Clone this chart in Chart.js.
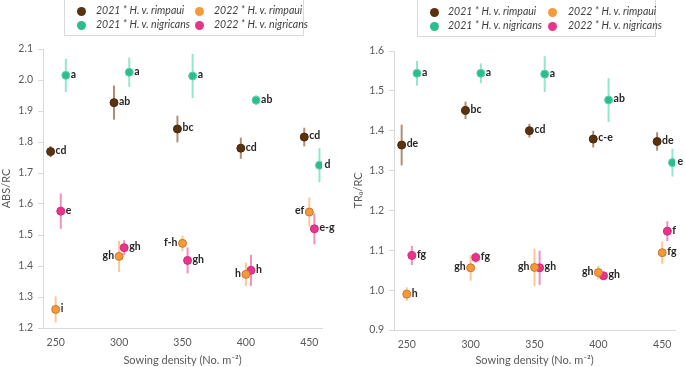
<!DOCTYPE html>
<html><head><meta charset="utf-8">
<script src="https://cdn.jsdelivr.net/npm/chart.js@4/dist/chart.umd.min.js"></script>
<style>
html,body{margin:0;padding:0;background:#fff;width:685px;height:367px;overflow:hidden;}
.wrap{position:absolute;top:0;height:367px;}
.legend{position:absolute;border:1px solid #d9d9d9;border-top:none;font-family:Lato,"Open Sans",sans-serif;font-style:italic;font-size:10.5px;color:#404040;}
.item{position:absolute;white-space:nowrap;line-height:12px;}
.dot{position:absolute;width:9px;height:9px;border-radius:50%;}
</style></head>
<body>
<div class="wrap" style="left:0;width:340px;"><canvas id="c1" width="340" height="367"></canvas></div>
<div class="wrap" style="left:340px;width:345px;"><canvas id="c2" width="345" height="367"></canvas></div>
<div class="legend" style="left:64px;top:0;width:238px;height:35px;" id="lg1"></div>
<div class="legend" style="left:417px;top:0;width:237px;height:36px;" id="lg2"></div>
<script>
// ---------- data ----------
const densities = [250, 300, 350, 400, 450];
const seriesNames = ['2021 * H. v. rimpaui', '2021 * H. v. nigricans', '2022 * H. v. rimpaui', '2022 * H. v. nigricans'];

// ABS/RC
const absRimp21 = [1.769, 1.927, 1.842, 1.780, 1.816];
const absRimp21Err = [0.018, 0.055, 0.043, 0.034, 0.030];
const absNig21 = [2.015, 2.025, 2.013, 1.935, 1.725];
const absNig21Err = [0.054, 0.047, 0.071, 0.016, 0.055];
const absRimp22 = [1.260, 1.431, 1.473, 1.373, 1.574];
const absRimp22Err = [0.042, 0.050, 0.025, 0.038, 0.047];
const absNig22 = [1.577, 1.459, 1.418, 1.386, 1.520];
const absNig22Err = [0.057, 0.024, 0.042, 0.050, 0.050];
const absRimp21Lbl = ['cd', 'ab', 'bc', 'cd', 'cd'];
const absNig21Lbl = ['a', 'a', 'a', 'ab', 'd'];
const absRimp22Lbl = ['i', 'gh', 'f-h', 'h', 'ef'];
const absNig22Lbl = ['e', 'gh', 'gh', 'h', 'e-g'];
const absRimp22Side = ['r', 'l', 'l', 'l', 'l'];
const absTicks = [1.2, 1.3, 1.4, 1.5, 1.6, 1.7, 1.8, 1.9, 2.0, 2.1];

// TRo/RC
const trRimp21 = [1.364, 1.451, 1.400, 1.379, 1.373];
const trRimp21Err = [0.051, 0.022, 0.017, 0.021, 0.023];
const trNig21 = [1.544, 1.544, 1.542, 1.477, 1.320];
const trNig21Err = [0.031, 0.025, 0.045, 0.055, 0.035];
const trRimp22 = [0.990, 1.056, 1.057, 1.044, 1.094];
const trRimp22Err = [0.017, 0.032, 0.047, 0.017, 0.028];
const trNig22 = [1.087, 1.082, 1.056, 1.036, 1.148];
const trNig22Err = [0.024, 0.013, 0.043, 0.010, 0.025];
const trRimp21Lbl = ['de', 'bc', 'cd', 'c-e', 'de'];
const trNig21Lbl = ['a', 'a', 'a', 'ab', 'e'];
const trRimp22Lbl = ['h', 'gh', 'gh', 'gh', 'fg'];
const trNig22Lbl = ['fg', 'fg', 'gh', 'gh', 'f'];
const trRimp22Side = ['r', 'l', 'l', 'l', 'r'];
const trTicks = [0.9, 1.0, 1.1, 1.2, 1.3, 1.4, 1.5, 1.6];

// ---------- styles ----------
const offsets = [-4, 8, 0, 4];
const fills = ['#5b3210', '#2dbd8d', '#f59a3b', '#e8348b'];
const borders = ['#4a280c', '#5fd3aa', '#c9772a', '#d42a7c'];
const barCols = ['rgba(140,95,60,0.7)', 'rgba(80,215,165,0.6)', 'rgba(245,165,80,0.6)', 'rgba(235,70,150,0.6)'];
const FONT = 'Lato, "Open Sans", sans-serif';

function makeDatasets(vals, errs, lbls, sides) {
  return vals.map((v, i) => ({
    label: seriesNames[i],
    data: densities.map((d, k) => ({ x: d + offsets[i], y: v[k] })),
    errs: errs[i], lbls: lbls[i], sides: sides[i],
    backgroundColor: fills[i], borderColor: borders[i], borderWidth: 1,
    pointRadius: 4, pointHoverRadius: 4, barColor: barCols[i]
  }));
}

const errPlugin = {
  id: 'errs',
  beforeDatasetsDraw(chart) {
    const ctx = chart.ctx, ys = chart.scales.y, xs = chart.scales.x;
    ctx.save();
    chart.data.datasets.forEach(ds => {
      ctx.strokeStyle = ds.barColor; ctx.lineWidth = 2;
      ds.data.forEach((p, k) => {
        const x = xs.getPixelForValue(p.x);
        ctx.beginPath();
        ctx.moveTo(x, ys.getPixelForValue(p.y + ds.errs[k]));
        ctx.lineTo(x, ys.getPixelForValue(p.y - ds.errs[k]));
        ctx.stroke();
      });
    });
    ctx.restore();
  },
  afterDatasetsDraw(chart) {
    const ctx = chart.ctx, ys = chart.scales.y, xs = chart.scales.x;
    ctx.save();
    ctx.font = 'bold 10.5px ' + FONT;
    ctx.fillStyle = '#262626';
    ctx.textBaseline = 'middle';
    chart.data.datasets.forEach(ds => {
      ds.data.forEach((p, k) => {
        const x = xs.getPixelForValue(p.x), y = ys.getPixelForValue(p.y);
        const side = ds.sides ? ds.sides[k] : 'r';
        if (side === 'l') { ctx.textAlign = 'right'; ctx.fillText(ds.lbls[k], x - 5, y - 1); }
        else { ctx.textAlign = 'left'; ctx.fillText(ds.lbls[k], x + 5, y - 1); }
      });
    });
    ctx.restore();
  }
};

function makeChart(id, datasets, ticks, yTitle, pad, yWidth, xHeight) {
  return new Chart(document.getElementById(id), {
    type: 'scatter',
    data: { datasets },
    plugins: [errPlugin],
    options: {
      responsive: false, animation: false,
      layout: { padding: pad },
      plugins: { legend: { display: false }, tooltip: { enabled: false } },
      scales: {
        x: {
          type: 'linear', min: 240, max: 460,
          afterBuildTicks: s => { s.ticks = densities.map(v => ({ value: v })); },
          grid: { display: false, drawTicks: false },
          border: { color: '#d9d9d9', width: 1 },
          ticks: { color: '#595959', font: { family: FONT, size: 10.5 }, padding: 8 },
          title: { display: true, text: 'Sowing density (No. m\u207B\u00B2)', color: '#595959', font: { family: FONT, size: 11 }, padding: { top: 2, bottom: 0 } },
          afterFit: s => { s.height = xHeight; }
        },
        y: {
          min: ticks[0], max: ticks[ticks.length - 1],
          afterBuildTicks: s => { s.ticks = ticks.map(v => ({ value: v })); },
          grid: { display: true, drawOnChartArea: false, drawTicks: true, tickLength: 5, color: '#d9d9d9' },
          border: { color: '#d9d9d9', width: 1 },
          ticks: { color: '#595959', font: { family: FONT, size: 10.5 }, padding: 5, callback: v => v.toFixed(1) },
          title: { display: true, text: yTitle, color: '#595959', font: { family: FONT, size: 11 }, padding: 0 },
          afterFit: s => { s.width = yWidth; }
        }
      }
    }
  });
}

makeChart('c1', makeDatasets([absRimp21, absNig21, absRimp22, absNig22], [absRimp21Err, absNig21Err, absRimp22Err, absNig22Err],
  [absRimp21Lbl, absNig21Lbl, absRimp22Lbl, absNig22Lbl], [null, null, absRimp22Side, null]),
  absTicks, 'ABS/RC', { top: 49, right: 18, bottom: 0, left: 0 }, 43, 39);

makeChart('c2', makeDatasets([trRimp21, trNig21, trRimp22, trNig22], [trRimp21Err, trNig21Err, trRimp22Err, trNig22Err],
  [trRimp21Lbl, trNig21Lbl, trRimp22Lbl, trNig22Lbl], [null, null, trRimp22Side, null]),
  trTicks, 'TR\u2080/RC', { top: 51, right: 10, bottom: 0, left: 12 }, 42, 37);

// ---------- HTML legends ----------
function buildLegend(id, dotX, textX, rows) {
  const el = document.getElementById(id);
  const order = [[0, 0], [2, 1], [1, 0], [3, 1]];
  order.forEach(([si, col], n) => {
    const row = Math.floor(n / 2);
    const d = document.createElement('div'); d.className = 'dot';
    d.style.background = fills[si]; d.style.left = (dotX[col] - 4.5) + 'px'; d.style.top = (rows[row] - 4.5) + 'px';
    el.appendChild(d);
    const t = document.createElement('div'); t.className = 'item';
    t.textContent = seriesNames[si]; t.style.left = textX[col] + 'px'; t.style.top = (rows[row] - 7) + 'px';
    el.appendChild(t);
  });
}
buildLegend('lg1', [16, 134], [31, 149], [11, 25]);
buildLegend('lg2', [16, 134], [30, 150], [12, 26]);
</script>
</body></html>
